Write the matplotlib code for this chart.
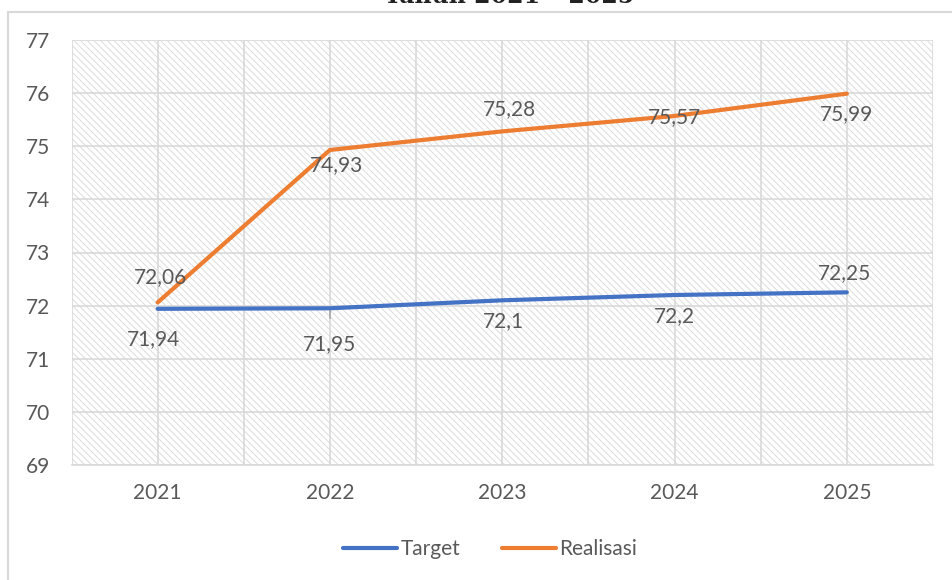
"""
Target vs Realisasi, Tahun 2021 - 2025.
"""
import matplotlib
matplotlib.use('Agg')
import matplotlib.pyplot as plt
from matplotlib.patches import Rectangle

years = ["2021", "2022", "2023", "2024", "2025"]
target = [71.94, 71.95, 72.1, 72.2, 72.25]
realisasi = [72.06, 74.93, 75.28, 75.57, 75.99]
target_labels = ["71,94", "71,95", "72,1", "72,2", "72,25"]
realisasi_labels = ["72,06", "74,93", "75,28", "75,57", "75,99"]

# label offsets (points) for each data label
target_offsets = [(-3, -22), (0, -26), (1, -15), (0, -15), (-2, 14)]
realisasi_offsets = [(2, 18), (5, -11), (5, 16), (0, -1), (0, -15)]

TEXT = "#595959"
GRID = "#d9d9d9"

def main():
    plt.rcParams['font.family'] = ['Lato', 'DejaVu Sans']
    plt.rcParams['hatch.color'] = "#dcdcdc"
    plt.rcParams['hatch.linewidth'] = 0.7

    fig = plt.figure(figsize=(9.52, 5.8), dpi=100)
    ax = fig.add_axes([71.5 / 952, 1 - 465 / 580, (933 - 71.5) / 952, (465 - 40) / 580])

    # outer chart frame
    fig.patches.append(Rectangle((8 / 952, -0.1), 1.2, 1 - 12 / 580 + 0.1,
                                 transform=fig.transFigure, fill=False,
                                 edgecolor="#d9d9d9", linewidth=1.5))
    fig.text(0.535, 1 + 4 / 580, "Tahun 2021 \u2013 2025", ha="center", va="center",
             fontsize=17, fontweight="bold", family="DejaVu Serif", color="#222222")

    x = range(1, len(years) + 1)
    ax.add_patch(Rectangle((0, 0), 1, 1, transform=ax.transAxes, facecolor="white",
                           hatch="\\\\\\\\\\", edgecolor="#dcdcdc", linewidth=0, zorder=0))
    ax.plot(x, target, color="#4472C4", linewidth=3, solid_capstyle="round", label="Target", zorder=3)
    ax.plot(x, realisasi, color="#ED7D31", linewidth=3, solid_capstyle="round", label="Realisasi", zorder=3)

    for xi, v, lab, off in zip(x, target, target_labels, target_offsets):
        ax.annotate(lab, (xi, v), xytext=off, textcoords="offset points",
                    ha="center", va="center", fontsize=15, color=TEXT, zorder=4)
    for xi, v, lab, off in zip(x, realisasi, realisasi_labels, realisasi_offsets):
        ax.annotate(lab, (xi, v), xytext=off, textcoords="offset points",
                    ha="center", va="center", fontsize=15, color=TEXT, zorder=4)
    # small leader line on 2022 target label
    ax.plot([2, 2], [71.76, 71.9], color="#a6a6a6", linewidth=1.2, zorder=2)

    ax.set_xlim(0.5, 5.5)
    ax.set_ylim(69, 77)
    ax.set_yticks(range(69, 78))
    ax.set_xticks(list(x))
    ax.set_xticklabels(years)
    ax.set_xticks([i + 0.5 for i in range(0, 6)], minor=True)
    ax.grid(True, which="both", color=GRID, linewidth=1.2, zorder=1)
    ax.set_axisbelow(True)
    ax.tick_params(which="both", length=0, labelsize=15, colors=TEXT)
    ax.tick_params(axis="x", pad=13)
    ax.tick_params(axis="y", pad=33)
    for lab in ax.get_yticklabels():
        lab.set_horizontalalignment("left")
    for s in ["top", "right", "left"]:
        ax.spines[s].set_visible(False)
    ax.spines["bottom"].set_color(GRID)
    ax.spines["bottom"].set_linewidth(1.2)

    leg = fig.legend(loc="center", bbox_to_anchor=(490 / 952, 1 - 549 / 580), ncol=2, frameon=False,
                     fontsize=15, handlelength=2.6, handletextpad=0.15, columnspacing=2.0)
    for t in leg.get_texts():
        t.set_color(TEXT)

    plt.savefig("out.png", dpi=100)

if __name__ == "__main__":
    main()
